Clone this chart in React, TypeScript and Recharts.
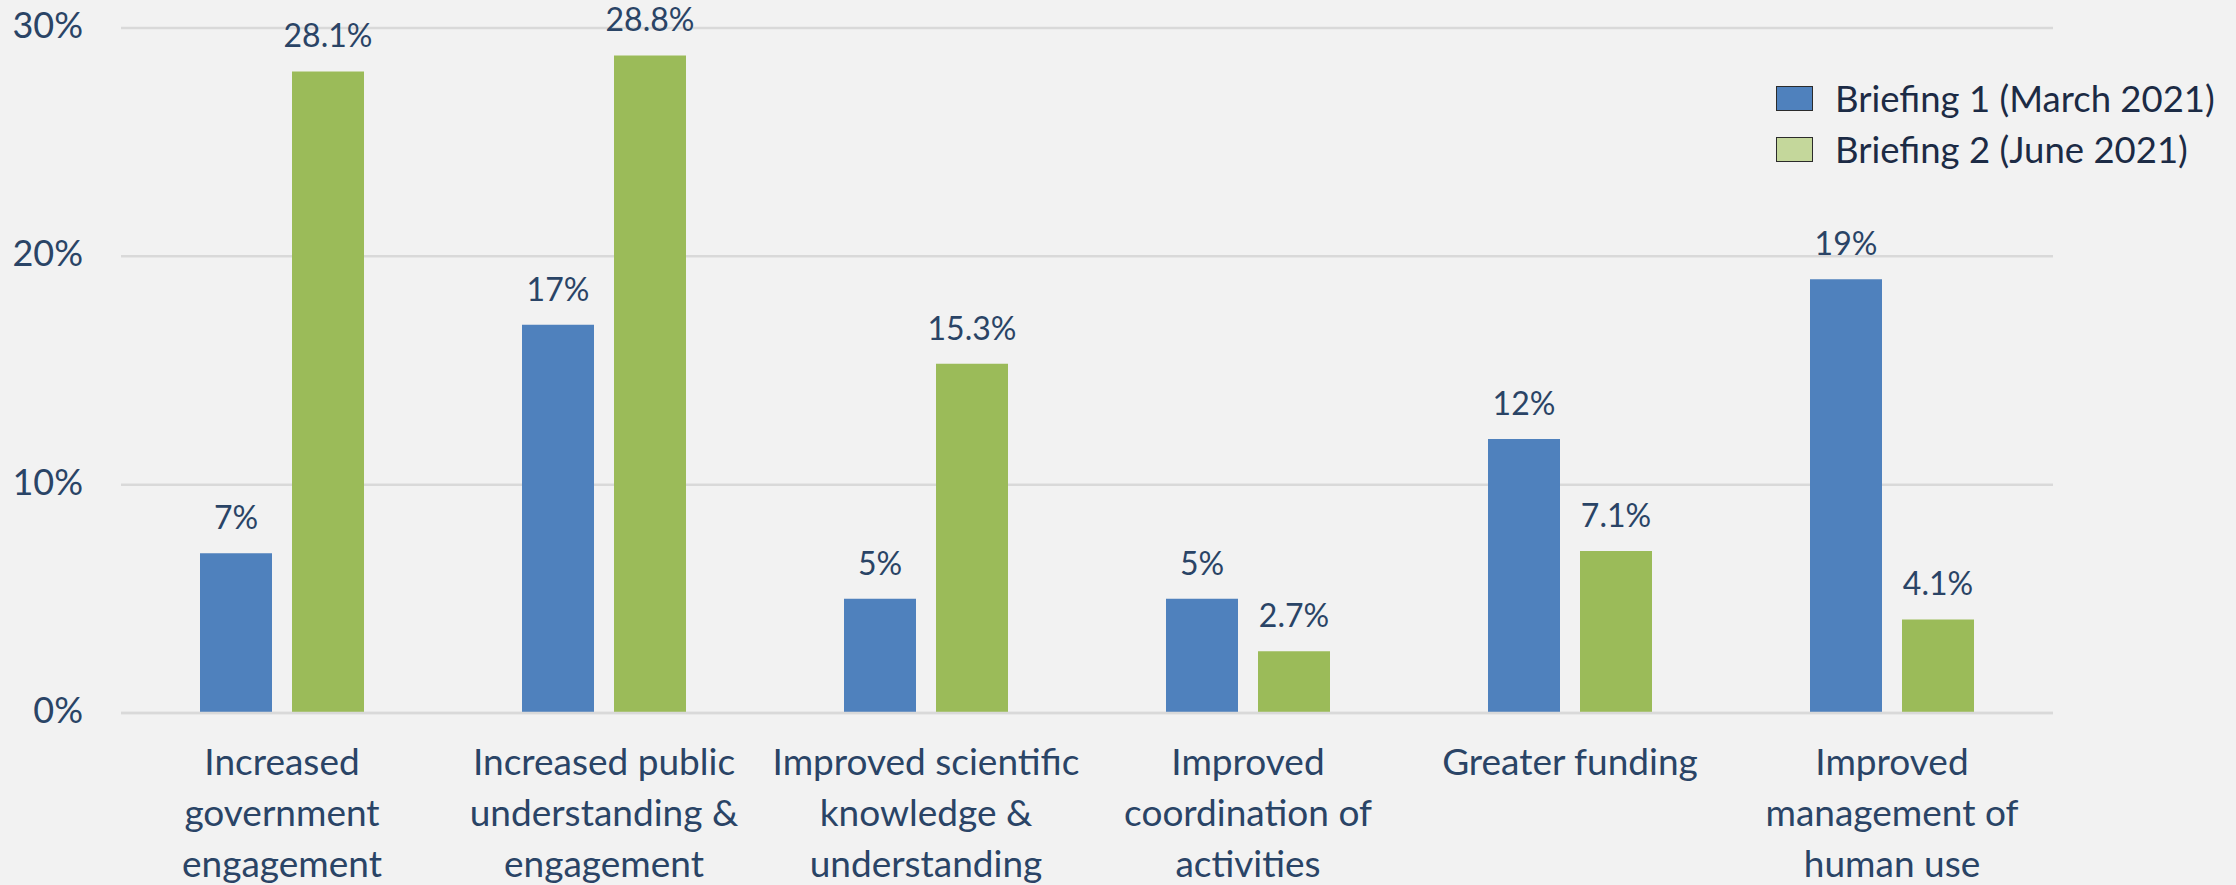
import React from 'react';
import { BarChart, Bar, XAxis, YAxis, CartesianGrid, LabelList, Legend } from 'recharts';

const categories = [
  'Increased\ngovernment\nengagement',
  'Increased public\nunderstanding &\nengagement',
  'Improved scientific\nknowledge &\nunderstanding',
  'Improved\ncoordination of\nactivities',
  'Greater funding',
  'Improved\nmanagement of\nhuman use',
];
const briefing1 = [7, 17, 5, 5, 12, 19];
const briefing2 = [28.1, 28.8, 15.3, 2.7, 7.1, 4.1];
const seriesNames = ['Briefing 1 (March 2021)', 'Briefing 2 (June 2021)'];
const yTicks = [0, 10, 20, 30];

const data = categories.map((c, i) => ({ category: c, b1: briefing1[i], b2: briefing2[i] }));

const FONT = 'Lato, "Open Sans", sans-serif';
const TEXT = '#2A4466';
const LEGEND_TEXT = '#1C2B45';
const BLUE = '#4F81BD';
const GREEN = '#9BBB59';
const SWATCH = ['#4F81BD', '#C4D79B'];
const BG = '#F2F2F2';

const CategoryTick = (props: any) => {
  const { x, y, payload } = props;
  const lines = String(payload.value).split('\n');
  return (
    <text x={x} y={y} textAnchor="middle" fill={TEXT} fontSize={37} fontFamily={FONT}>
      {lines.map((l, i) => (
        <tspan key={i} x={x} dy={i === 0 ? 62 : 51}>
          {l}
        </tspan>
      ))}
    </text>
  );
};

const ValueTick = (props: any) => {
  const { x, y, payload } = props;
  return (
    <text x={x} y={y} dy={10} textAnchor="end" fill={TEXT} fontSize={36} fontFamily={FONT}>
      {`${payload.value}%`}
    </text>
  );
};

const LegendContent = (props: any) => {
  const { payload } = props;
  return (
    <div style={{ fontFamily: FONT }}>
      {(payload || []).map((p: any, i: number) => (
        <div key={i} style={{ display: 'flex', alignItems: 'center', height: 51 }}>
          <div
            style={{
              width: 35,
              height: 23,
              background: SWATCH[i],
              border: '1px solid #2b2b2b',
              marginRight: 22,
            }}
          />
          <span style={{ fontSize: 36.5, color: LEGEND_TEXT, lineHeight: '51px' }}>{p.value}</span>
        </div>
      ))}
    </div>
  );
};

export default function App() {
  return (
    <div
      style={{
        position: 'fixed',
        top: 0,
        left: 0,
        width: 2236,
        height: 885,
        background: BG,
        overflow: 'hidden',
      }}
    >
      <BarChart
        width={2236}
        height={885}
        data={data}
        margin={{ top: 28, right: 183, bottom: 0, left: 0 }}
        barGap={20}
        style={{ background: BG }}
      >
        <CartesianGrid vertical={false} stroke="#D9D9D9" strokeWidth={2.5} />
        <XAxis
          dataKey="category"
          interval={0}
          height={172}
          tickLine={false}
          axisLine={{ stroke: '#D9D9D9', strokeWidth: 2.5 }}
          tickSize={0}
          tickMargin={0}
          tick={<CategoryTick />}
        />
        <YAxis
          width={121}
          domain={[0, 30]}
          ticks={yTicks}
          axisLine={false}
          tickLine={false}
          tickSize={0}
          tickMargin={38}
          tick={<ValueTick />}
        />
        <Legend
          layout="vertical"
          align="center"
          verticalAlign="middle"
          wrapperStyle={{ top: 73, left: 1776, width: 460 }}
          content={<LegendContent />}
        />
        <Bar dataKey="b1" name={seriesNames[0]} fill={BLUE} barSize={72} isAnimationActive={false}>
          <LabelList
            dataKey="b1"
            position="top"
            offset={24}
            formatter={(v: any) => `${v}%`}
            fill={TEXT}
            fontSize={32}
            fontFamily={FONT}
          />
        </Bar>
        <Bar dataKey="b2" name={seriesNames[1]} fill={GREEN} barSize={72} isAnimationActive={false}>
          <LabelList
            dataKey="b2"
            position="top"
            offset={24}
            formatter={(v: any) => `${Number(v).toFixed(1)}%`}
            fill={TEXT}
            fontSize={32}
            fontFamily={FONT}
          />
        </Bar>
      </BarChart>
    </div>
  );
}
